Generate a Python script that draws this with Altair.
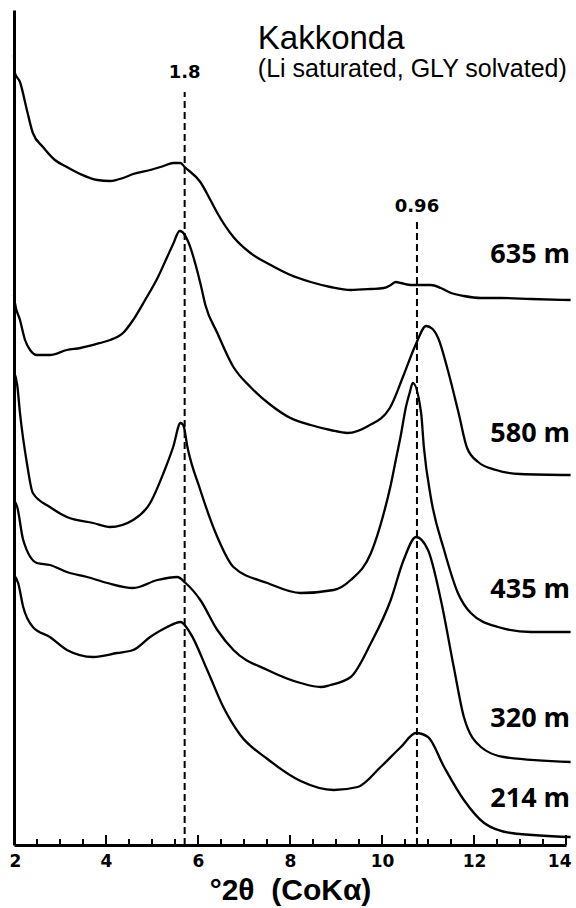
import altair as alt
import pandas as pd

# ---- traces: °2θ positions and intensities (arbitrary units) ----
x_635 = [2.00, 2.02, 2.13, 2.28, 2.41, 2.63, 2.89, 3.15, 3.44, 3.81, 4.09, 4.37, 4.59, 4.96,
         5.25, 5.46, 5.62, 5.71, 6.05, 6.27, 6.42, 6.77, 7.14, 7.58, 8.01, 8.45, 8.88, 9.32,
         9.76, 10.04, 10.19, 10.30, 10.41, 10.63, 10.85, 11.06, 11.28, 11.50, 11.78, 12.15,
         12.59, 13.24, 14.10]
i_635 = [790, 772, 763, 735, 712, 698, 685, 678, 671, 665, 664, 667, 671, 675,
         679, 682, 682, 678, 663, 645, 632, 608, 592, 580, 570, 563, 558, 555,
         556, 557, 560, 563, 562, 560, 560, 560, 557, 552, 549, 547,
         547, 546, 545]

x_580 = [2.00, 2.02, 2.13, 2.24, 2.35, 2.50, 2.78, 3.15, 3.44, 3.87, 4.09, 4.37, 4.59, 4.85,
         5.12, 5.33, 5.46, 5.60, 5.66, 5.77, 6.05, 6.16, 6.42, 6.77, 7.14, 7.58, 8.01, 8.45,
         8.88, 9.25, 9.70, 10.17, 10.48, 10.72, 10.96, 11.10, 11.22, 11.43, 11.67, 11.85,
         12.09, 12.48, 13.00, 14.10]
i_580 = [550, 542, 525, 505, 495, 490, 490, 495, 497, 502, 505, 512, 525, 545,
         567, 588, 601, 614, 613, 605, 562, 540, 512, 478, 458, 440, 427, 420,
         415, 412, 419, 437, 471, 499, 519, 516, 507, 475, 431, 397,
         383, 375, 371, 370]

x_435 = [2.00, 2.07, 2.13, 2.28, 2.41, 2.78, 3.15, 3.72, 4.09, 4.59, 4.96, 5.25, 5.46, 5.62,
         5.68, 5.77, 6.05, 6.42, 6.77, 7.51, 8.23, 8.95, 9.32, 9.76, 10.04, 10.19, 10.30,
         10.41, 10.52, 10.60, 10.67, 10.85, 10.91, 11.06, 11.35, 11.65, 11.93, 12.52, 13.24,
         14.10]
i_435 = [473, 460, 432, 382, 352, 338, 328, 322, 318, 325, 342, 372, 398, 422,
         420, 398, 355, 308, 278, 262, 252, 255, 265, 292, 332, 360, 385,
         410, 438, 452, 462, 432, 398, 348, 295, 252, 232, 218, 213,
         213]

x_320 = [2.00, 2.07, 2.20, 2.50, 2.78, 3.15, 3.59, 4.03, 4.59, 5.12, 5.55, 5.73, 6.05, 6.42,
         6.77, 7.51, 8.23, 8.67, 8.88, 9.32, 9.76, 10.19, 10.47, 10.74, 11.00, 11.28, 11.56,
         11.78, 12.15, 12.65, 14.10]
i_320 = [345, 338, 305, 282, 280, 273, 268, 262, 257, 265, 268, 262, 245, 215,
         195, 175, 162, 158, 160, 168, 202, 245, 285, 308, 295, 245, 178,
         128, 98, 88, 83]

x_214 = [2.00, 2.09, 2.20, 2.41, 2.78, 3.15, 3.72, 4.24, 4.59, 4.96, 5.33, 5.62, 5.83, 6.20,
         6.55, 6.92, 7.51, 8.23, 8.95, 9.47, 9.97, 10.41, 10.74, 11.00, 11.35, 11.78, 12.22,
         12.81, 14.10]
i_214 = [270, 262, 238, 218, 208, 195, 188, 192, 195, 208, 218, 223, 212, 175,
         138, 110, 86, 64, 55, 58, 78, 98, 112, 108, 78, 45, 22, 12, 8]

depths = ["635 m", "580 m", "435 m", "320 m", "214 m"]
depth_label_i = [582, 403, 247, 118, 38]
depth_label_x = 14.09

# d-spacing reference lines (nm) and their 2θ positions
d_labels = ["1.8", "0.96"]
d_x = [5.71, 10.76]
d_top = [753, 623]
d_label_i = [767, 633]

# axis tick values
tick_labels = [2, 4, 6, 8, 10, 12, 14]
minor_ticks = [2.5, 3, 3.5, 4.5, 5, 5.5, 6.5, 7, 7.5, 8.5, 9, 9.5, 10.5, 11, 11.5,
               12.5, 13, 13.5]
major_ticks = [4, 6, 8, 10, 12, 14]

title_text = "Kakkonda"
subtitle_text = "(Li saturated, GLY solvated)"
x_title = "°2θ\u00a0\u00a0(CoKα)"

# ---- build tables ----
rows = []
for name, xs_, ys_ in zip(depths, [x_635, x_580, x_435, x_320, x_214],
                          [i_635, i_580, i_435, i_320, i_214]):
    for a, b in zip(xs_, ys_):
        rows.append({"depth": name, "x": a, "i": b})
traces = pd.DataFrame(rows)

xs = alt.Scale(domain=[2, 14], nice=False, zero=False)
ys = alt.Scale(domain=[0, 835], nice=False, zero=False)

X = alt.X("x:Q", scale=xs, axis=alt.Axis(
    values=tick_labels, format="d", ticks=False, grid=False,
    domainWidth=3, domainColor="black",
    labelFont="DejaVu Sans", labelFontWeight="bold", labelFontSize=17, labelColor="black",
    labelPadding=8, labelFlush=True, labelFlushOffset=5,
    title=x_title, titleFont="Liberation Sans", titleFontSize=30,
    titleFontWeight="bold", titleColor="black", titlePadding=6))
Y = alt.Y("i:Q", scale=ys, axis=alt.Axis(
    labels=False, ticks=False, grid=False, title="",
    domainWidth=3, domainColor="black"))

lines = alt.Chart(traces).mark_line(
    color="black", strokeWidth=2.3, interpolate="monotone"
).encode(x=X, y=Y, detail="depth:N")

tick_df = pd.DataFrame(
    [{"x": t, "i": 0, "i2": 6} for t in minor_ticks] +
    [{"x": t, "i": 0, "i2": 10} for t in major_ticks])
ticks = alt.Chart(tick_df).mark_rule(color="black", strokeWidth=2).encode(
    x=alt.X("x:Q", scale=xs), y=alt.Y("i:Q", scale=ys), y2="i2:Q")

d_df = pd.DataFrame({"x": d_x, "top": d_top, "label": d_labels, "li": d_label_i,
                     "zero": [0, 0]})
dlines = alt.Chart(d_df).mark_rule(color="black", strokeWidth=2, strokeDash=[7, 4]).encode(
    x=alt.X("x:Q", scale=xs), y=alt.Y("zero:Q", scale=ys), y2="top:Q")
dtext = alt.Chart(d_df).mark_text(
    font="DejaVu Sans", fontWeight="bold", fontSize=18, color="black",
    align="center", baseline="alphabetic"
).encode(x=alt.X("x:Q", scale=xs), y=alt.Y("li:Q", scale=ys), text="label:N")

lab_df = pd.DataFrame({"label": depths, "li": depth_label_i,
                       "x": [depth_label_x] * len(depths)})
labels = alt.Chart(lab_df).mark_text(
    font="Open Sans", fontWeight="bold", fontSize=27, color="black",
    align="right", baseline="alphabetic"
).encode(x=alt.X("x:Q", scale=xs), y=alt.Y("li:Q", scale=ys), text="label:N")

t_df = pd.DataFrame({"x": [7.30], "i": [796], "t": [title_text]})
s_df = pd.DataFrame({"x": [7.30], "i": [768], "t": [subtitle_text]})
title = alt.Chart(t_df).mark_text(
    font="Liberation Sans", fontSize=33, color="black", align="left", baseline="alphabetic"
).encode(x=alt.X("x:Q", scale=xs), y=alt.Y("i:Q", scale=ys), text="t:N")
subtitle = alt.Chart(s_df).mark_text(
    font="Liberation Sans", fontSize=25, color="black", align="left", baseline="alphabetic"
).encode(x=alt.X("x:Q", scale=xs), y=alt.Y("i:Q", scale=ys), text="t:N")

chart = alt.layer(ticks, dlines, lines, dtext, labels, title, subtitle).properties(
    width=552, height=835,
    autosize=alt.AutoSizeParams(type="none"),
    padding={"left": 14, "top": 10, "right": 10, "bottom": 63},
    background="white",
).configure_view(stroke="transparent")

chart.save("out.html", embed_options={"renderer": "svg", "actions": False})
